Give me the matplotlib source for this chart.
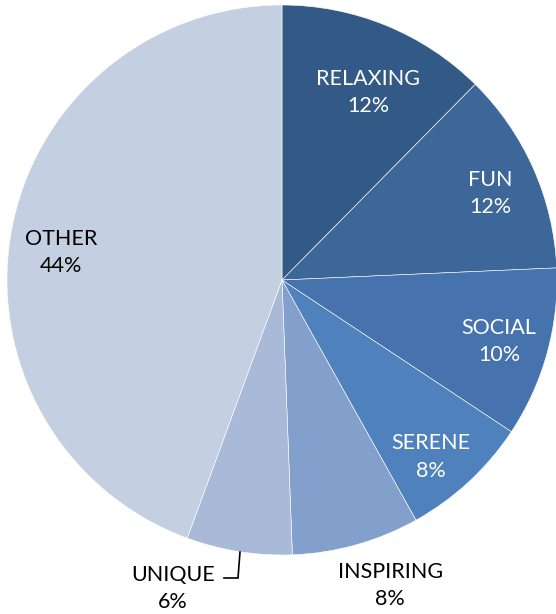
import numpy as np
import matplotlib
matplotlib.use('Agg')
import matplotlib.pyplot as plt

# slice data, clockwise from 12 o'clock
categories = ['RELAXING', 'FUN', 'SOCIAL', 'SERENE', 'INSPIRING', 'UNIQUE', 'OTHER']
shares = [12.4, 11.9, 10.0, 7.6, 7.5, 6.2, 44.4]
pct_labels = ['12%', '12%', '10%', '8%', '8%', '6%', '44%']

colors = ['#335a87', '#3d6699', '#4673ad', '#4f81bd', '#839fcc', '#a9b9d8', '#c4cfe2']
text_colors = ['white', 'white', 'white', 'white', 'black', 'black', 'black']
# label centre: (angle from top clockwise in deg, distance in radii)
label_pos = [(24.7, 0.75), (67.4, 0.82), (105.8, 0.82), (140.0, 0.84),
             (160.5, 1.18), (199.5, 1.19), (277.0, 0.81)]

plt.rcParams['font.family'] = ['Lato', 'DejaVu Sans']

W, H = 556, 614
cx, cy, R = 282, 280, 275   # pie centre / radius in pixels (from top-left)
fig = plt.figure(figsize=(W / 100, H / 100), dpi=100)
ax = fig.add_axes([0, 0, 1, 1])

ax.pie(shares, colors=colors, startangle=90, counterclock=False,
       radius=1, center=(0, 0),
       wedgeprops=dict(edgecolor='white', linewidth=0.4))

for name, pct, (ang, dist), tc in zip(categories, pct_labels, label_pos, text_colors):
    a = np.deg2rad(ang)
    x, y = dist * np.sin(a), dist * np.cos(a)
    ax.text(x, y, name + '\n' + pct, ha='center', va='center', color=tc,
            fontsize=15.5, linespacing=1.45)

# leader line for UNIQUE
ax.plot([(240 - cx) / R, (238 - cx) / R, (224 - cx) / R],
        [(cy - 552) / R, (cy - 578) / R, (cy - 578) / R],
        color='black', lw=1.2, solid_joinstyle='miter')

ax.set_xlim(-cx / R, (W - cx) / R)
ax.set_ylim(-(H - cy) / R, cy / R)
ax.set_aspect('auto')
ax.axis('off')

plt.savefig('out.png', dpi=100)
